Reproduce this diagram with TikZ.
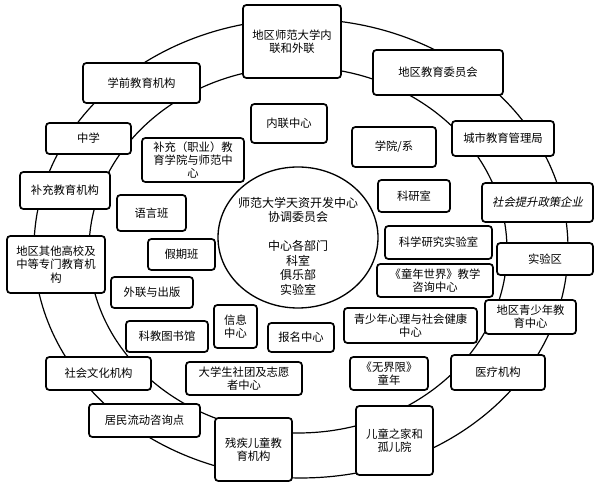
\documentclass[tikz,border=0pt]{standalone}
\usepackage{fontspec}
\setmainfont{Noto Sans CJK SC}
\newfontfamily\cjkit[FakeSlant=0.2]{Noto Sans CJK SC}
\usetikzlibrary{shapes.geometric}
\tikzset{
  box/.style={draw, line width=1.3pt, rounded corners=2.5pt, fill=white, align=center,
    inner sep=0pt, font=\fontsize{8.5}{10}\selectfont},
  ring/.style={line width=0.9pt},
  corebox/.style={draw, ellipse, line width=1pt, fill=white, inner sep=0pt},
  coretext/.style={align=center, inner sep=0pt, font=\fontsize{9}{10.9}\selectfont}
}
\newcommand\bx[6]{%
  \pgfmathsetmacro\bxwid{(#4-#2)*0.75}%
  \pgfmathsetmacro\bxhei{(#5-#3)*0.75}%
  \node[box, minimum width=\bxwid pt, minimum height=\bxhei pt] (#1) at ({(#2+#4)/2},{(#3+#5)/2}) {#6};}
\begin{document}
\begin{tikzpicture}[x=0.75pt, y=-0.75pt]
\fill[white] (0,0) rectangle (600,488);
\useasboundingbox (0,0) rectangle (600,488);
% rings
\draw[ring] (301,248.5) ellipse [x radius=200.25pt, y radius=172.1pt];
\draw[ring] (298,250) ellipse [x radius=156.75pt, y radius=137.25pt];
% core
\node[corebox, minimum width=120pt, minimum height=105.75pt] (core) at (298,237.5) {};
\node[coretext] (coretxt) at (298,246) {师范大学天资开发中心\\协调委员会\\[10.9pt]中心各部门\\科室\\俱乐部\\实验室};
% boxes
\bx{tpu}{243}{5}{341}{78}{地区师范大学内\\联和外联}
\bx{pre}{83}{63}{200}{103}{学前教育机构}
\bx{com}{373}{50}{503}{95}{地区教育委员会}
\bx{city}{452}{121}{554}{156}{城市教育管理局}
\bx{mid}{46}{123}{131}{154}{中学}
\bx{innr}{251}{104}{327}{143}{内联中心}
\bx{supcol}{142}{138}{244}{182}{补充（职业）教\\育学院与师范中\\心}
\bx{dept}{352}{127}{436}{167}{学院/系}
\bx{supinst}{20}{172}{110}{209}{补充教育机构}
\bx{lang}{117}{195}{186}{231}{语言班}
\bx{resr}{378}{180}{450}{212}{科研室}
\bx{corp}{482}{183}{593}{222}{\cjkit 社会提升政策企业}
\bx{other}{7}{236}{105}{293}{地区其他高校及\\中等专门教育机\\构}
\bx{hol}{148}{239}{215}{270}{假期班}
\bx{sci}{385}{226}{492}{259}{科学研究实验室}
\bx{expz}{497}{243}{593}{275}{实验区}
\bx{childw}{377}{264}{493}{297}{《童年世界》教学\\咨询中心}
\bx{ext}{111}{277}{193}{308}{外联与出版}
\bx{youth}{485}{300}{576}{334}{地区青少年教\\育中心}
\bx{info}{214}{305}{257}{348}{信息\\中心}
\bx{psy}{344}{308}{477}{343}{青少年心理与社会健康\\中心}
\bx{lib}{126}{321}{208}{352}{科教图书馆}
\bx{regc}{268}{323}{334}{352}{报名中心}
\bx{cult}{46}{357}{151}{390}{社会文化机构}
\bx{med}{451}{355}{545}{390}{医疗机构}
\bx{wujie}{350}{357}{428}{390}{《无界限》\\童年}
\bx{club}{186}{362}{302}{395}{大学生社团及志愿\\者中心}
\bx{resi}{89}{404}{200}{437}{居民流动咨询点}
\bx{orph}{356}{406}{433}{475}{儿童之家和\\孤儿院}
\bx{dis}{215}{418}{292}{481}{残疾儿童教\\育机构}
\end{tikzpicture}
\end{document}
